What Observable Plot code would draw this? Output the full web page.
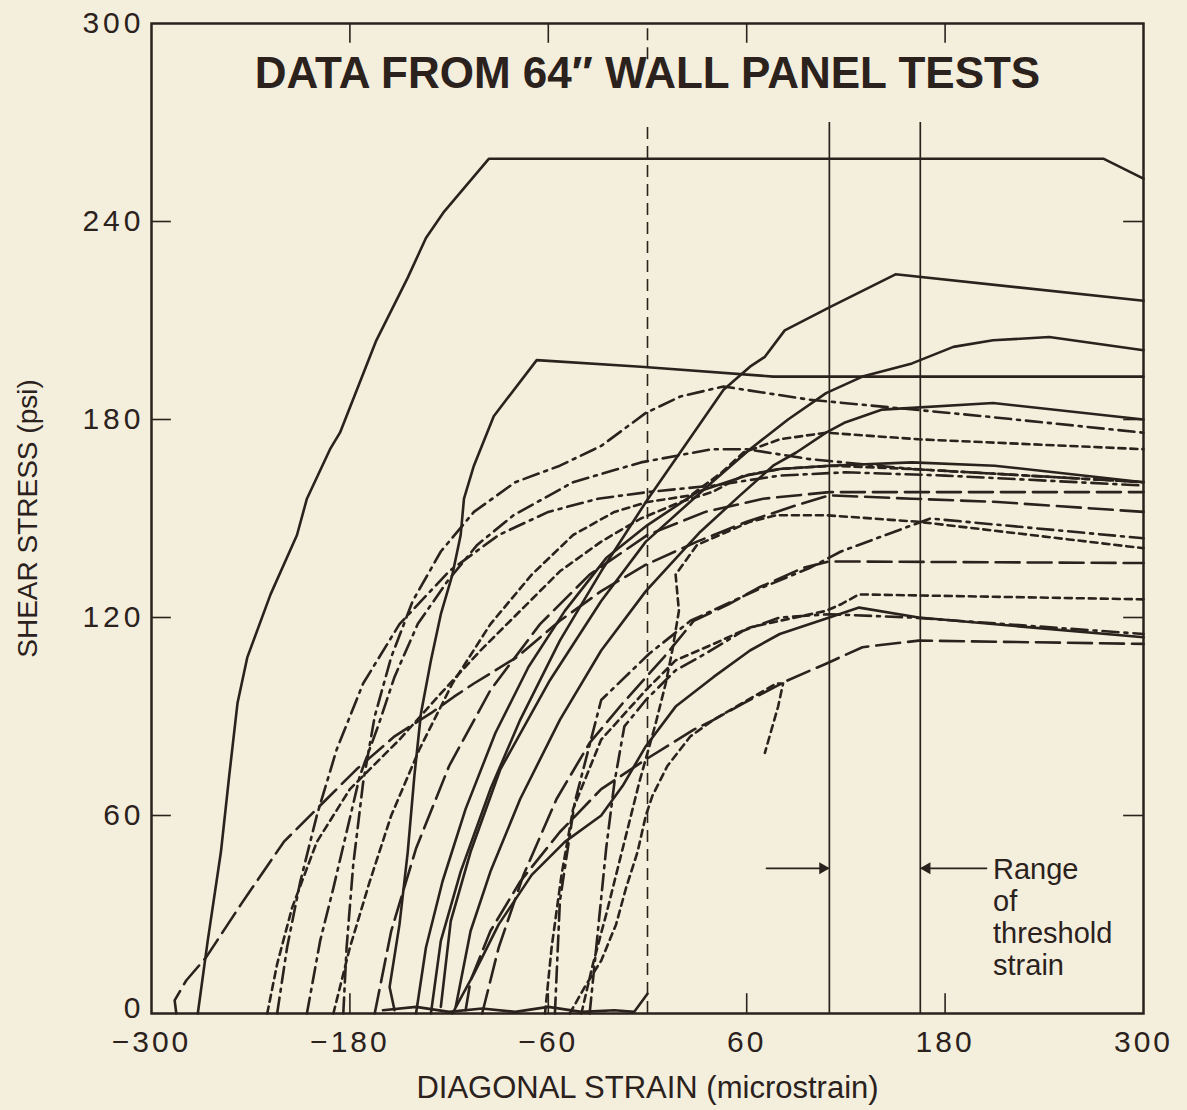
<!DOCTYPE html>
<html><head><meta charset="utf-8">
<script src="https://cdn.jsdelivr.net/npm/d3@7"></script>
<script src="https://cdn.jsdelivr.net/npm/@observablehq/plot@0.6"></script>
<style>
html,body{margin:0;padding:0;background:#f4efdc;}
#chart svg{display:block}
#chart g[aria-label="x-axis tick label"]{font-size:30px;letter-spacing:3px}
#chart g[aria-label="y-axis tick label"]{font-size:30px;letter-spacing:4px}
</style></head><body><div id="chart"></div>
<script>
// ---- axis ticks / annotations ----
const xTicks = [-300, -180, -60, 60, 180, 300];
const yTicks = [60, 120, 180, 240, 300];
const yZeroTick = [0];
const innerXTicks = [-180, -60, 60, 180];
const innerYTicks = [60, 120, 180, 240];
const thresholds = [110, 165];
const arrowY = 44;

// ---- curves: [strain, stress] ----
// solid
const s1 = [[-272,0],[-266,22],[-258,49],[-253,72],[-248,94],[-242,108],[-228,127],[-212,145],[-206,156],[-192,171],[-186,176],[-164,204],[-145,223],[-134,235],[-123,243],[-96,259],[276,259],[300,253]];
const s2 = [[-153,1],[-156,8],[-150,27],[-145,49],[-141,72],[-137,91],[-131,107],[-125,121],[-118,133],[-113,145],[-111,156],[-105,166],[-97,176],[-93,181],[-67,198],[-4,196],[76,193],[300,193]];
const s3 = [[-131,0],[-125,22],[-113,43],[-95,68],[-77,89],[-53,113],[-28,134],[-1,155],[28,176],[46,189],[62,196],[71,199],[83,207],[110,214],[150,224],[300,216]];
const s4 = [[-125,2],[-119,28],[-107,49],[-89,74],[-59,101],[-28,125],[-1,143],[39,161],[62,171],[85,180],[108,188],[130,193],[160,197],[185,202],[209,204],[243,205],[300,201]];
const s5 = [[-116,2],[-107,25],[-95,43],[-77,65],[-53,89],[-28,110],[-1,128],[32,146],[56,157],[76,166],[90,170],[108,176],[119,179],[142,183],[209,185],[300,180]];
const s6 = [[-140,0],[-134,20],[-124,40],[-110,62],[-92,85],[-72,105],[-50,122],[-25,138],[0,148],[30,158],[60,163],[80,165],[110,166],[160,167],[210,166],[300,161]];
const s7 = [[-118,0],[-105,12],[-90,27],[-70,42],[-50,52],[-28,60],[-15,69],[-1,81],[17,93],[40,102],[62,110],[80,115],[110,120],[128,123],[164,120],[300,114]];
const s8 = [[-160,1],[-140,2],[-120,0.5],[-100,1.5],[-80,0.5],[-60,2],[-40,0.5],[-20,1],[-8,0.5],[0,6]];
// long dash
const ld1 = [[-285,0],[-286,4],[-279,10],[-267,17],[-246,33],[-220,52],[-194,65],[-176,74],[-153,84],[-131,91],[-117,96],[-105,100],[-79,108],[-53,119],[-28,128],[-1,136],[30,143],[60,149],[90,154],[110,157],[160,156],[212,155],[300,152]];
const ld2 = [[-165,0],[-155,25],[-140,50],[-120,75],[-95,98],[-65,118],[-35,133],[0,145],[35,152],[70,156],[110,158],[300,158]];
const ld3 = [[-100,0],[-90,20],[-75,42],[-55,65],[-35,82],[-15,94],[10,108],[28,119],[49,124],[67,129],[94,135],[110,137],[300,136.5]];
const ld4 = [[-110,1],[-107,10],[-95,25],[-77,40],[-53,55],[-28,68],[-1,77],[28,86],[40,89],[58,94],[85,101],[108,106],[130,111],[164,113],[300,112]];
// short dash
const dt1 = [[-190,0],[-180,20],[-168,40],[-155,60],[-138,80],[-118,100],[-95,118],[-70,133],[-45,145],[-20,152],[0,155],[26,157],[45,164],[58,170],[80,174],[108,176],[164,174],[300,171]];
const dt2 = [[-230,0],[-224,15],[-215,32],[-200,52],[-180,68],[-150,83],[-125,97],[-101,110],[-75,123],[-53,134],[-28,143],[-4,150],[20,155],[39,158],[58,163],[80,165],[112,166],[160,165],[300,161]];
const dt3 = [[-40,0],[-33,15],[-25,30],[-15,50],[-5,70],[5,88],[11,100],[15,110],[19,122],[17,133],[30,142],[62,149],[78,151],[108,151],[164,149],[300,141]];
const dt4 = [[-62,0],[-58,20],[-52,42],[-45,62],[-28,83],[-1,98],[17,107],[40,112],[62,117],[80,119],[108,122],[117,124],[128,127],[300,125.5]];
const dt5 = [[-47,0],[-38,8],[-28,16],[-19,27],[-13,38],[-6,49],[-1,60],[3,66],[12,75],[26,84],[40,89],[57,94],[78,100],[82,100],[79,93],[75,86],[71,79]];
// dash-dot
const dd1 = [[-184,0],[-182,20],[-178,45],[-172,70],[-165,90],[-155,108],[-142,125],[-125,140],[-105,152],[-80,161],[-53,166],[-28,172],[-1,182],[20,187],[46,190],[98,186],[203,181],[300,176]];
const dd2 = [[-206,0],[-198,22],[-190,38],[-182,55],[-174,72],[-163,87],[-153,102],[-139,118],[-121,131],[-103,142],[-81,151],[-45,161],[-4,167],[39,171],[60,171],[98,168],[160,165],[300,161]];
const dd3 = [[-56,0],[-53,34],[-44,64],[-28,95],[1,109],[26,119],[69,129],[98,135],[117,140],[144,145],[171,150],[300,144]];
const dd4 = [[-224,0],[-218,20],[-210,40],[-200,60],[-188,80],[-172,100],[-150,118],[-120,134],[-90,145],[-60,152],[-30,156],[0,158],[40,160],[80,163],[120,164],[180,163],[300,160]];
const dd5 = [[-35,0],[-30,25],[-25,50],[-20,70],[-14,87],[-1,95],[17,104],[35,109],[58,116],[80,120],[110,121],[160,120],[300,115]];

const solid = {s1, s2, s3, s4, s5, s6, s7, s8};
const longDash = {ld1, ld2, ld3, ld4};
const shortDash = {dt1, dt2, dt3, dt4, dt5};
const dashDot = {dd1, dd2, dd3, dd4, dd5};

const ink = "#2b211d";
const bg = "#f4efdc";
const rows = group => Object.entries(group).flatMap(([id, pts]) => pts.map(([x, y]) => ({id, x, y})));

const chart = Plot.plot({
  width: 1187, height: 1110,
  marginTop: 23, marginBottom: 97, marginLeft: 151, marginRight: 44,
  style: {background: bg, color: ink, fontFamily: "'Liberation Sans', Arial, sans-serif"},
  x: {domain: [-300, 300]},
  y: {domain: [0, 300]},
  marks: [
    Plot.axisX({ticks: xTicks, tickSize: 0, tickPadding: 17, label: null, fill: ink}),
    Plot.axisY({ticks: yTicks, tickSize: 0, tickPadding: 7, label: null, fill: ink}),
    Plot.axisY({ticks: yZeroTick, tickSize: 0, tickPadding: 7, label: null, fill: ink, dy: -5}),
    Plot.ruleX([0], {y1: 0, y2: 270, stroke: ink, strokeWidth: 1.6, strokeDasharray: "12,7"}),
    Plot.ruleX([0], {y1: 289, y2: 300, stroke: ink, strokeWidth: 1.6, strokeDasharray: "12,7"}),
    Plot.ruleX(thresholds, {y1: 0, y2: 270, stroke: ink, strokeWidth: 1.7}),
    Plot.ruleX(innerXTicks, {y1: 0, y2: 6, stroke: ink, strokeWidth: 1.6}),
    Plot.ruleX(innerXTicks, {y1: 294, y2: 300, stroke: ink, strokeWidth: 1.6}),
    Plot.ruleY(innerYTicks, {x1: -300, x2: -288, stroke: ink, strokeWidth: 1.6}),
    Plot.ruleY(innerYTicks, {x1: 288, x2: 300, stroke: ink, strokeWidth: 1.6}),
    Plot.line(rows(solid), {x: "x", y: "y", z: "id", stroke: ink, strokeWidth: 2.6, curve: "linear"}),
    Plot.line(rows(longDash), {x: "x", y: "y", z: "id", stroke: ink, strokeWidth: 2.6, strokeDasharray: "24,8"}),
    Plot.line(rows(shortDash), {x: "x", y: "y", z: "id", stroke: ink, strokeWidth: 2.6, strokeDasharray: "7,5"}),
    Plot.line(rows(dashDot), {x: "x", y: "y", z: "id", stroke: ink, strokeWidth: 2.6, strokeDasharray: "16,6,3,6"}),
    Plot.arrow([{x1: 72, x2: thresholds[0] - 1, y: arrowY}, {x1: 205, x2: thresholds[1] + 1, y: arrowY}],
      {x1: "x1", x2: "x2", y1: "y", y2: "y", stroke: ink, strokeWidth: 1.8, headLength: 0}),
    Plot.dot([{x: thresholds[0] - 4, y: arrowY, r: 90}, {x: thresholds[1] + 4, y: arrowY, r: -90}],
      {x: "x", y: "y", rotate: "r", symbol: "triangle", r: 4.5, fill: ink, stroke: null}),
    Plot.text(["Range\nof\nthreshold\nstrain"], {x: 209, y: 29.2, textAnchor: "start", lineAnchor: "middle", lineHeight: 1.1, fontSize: 29, fill: ink, style: "letter-spacing:3px"}),
    Plot.text(["DATA FROM 64\u2033 WALL PANEL TESTS"], {frameAnchor: "top", dy: 50, lineAnchor: "middle", fontSize: 44, fontWeight: "bold", fill: ink}),
    Plot.text(["DIAGONAL STRAIN (microstrain)"], {frameAnchor: "bottom", dy: 75, textAnchor: "middle", lineAnchor: "middle", fontSize: 31, fill: ink, style: "letter-spacing:3px"}),
    Plot.text(["SHEAR STRESS (psi)"], {frameAnchor: "left", dx: -123, rotate: -90, textAnchor: "middle", lineAnchor: "middle", fontSize: 28, fill: ink, style: "letter-spacing:2px"}),
    Plot.frame({stroke: ink, strokeWidth: 2.5})
  ]
});
document.getElementById("chart").append(chart);
</script></body></html>
